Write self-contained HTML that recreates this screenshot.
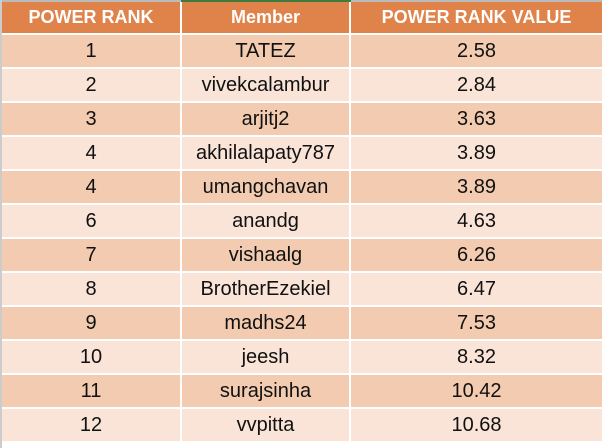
<!DOCTYPE html>
<html><head><meta charset="utf-8"><style>
body{margin:0;width:602px;height:448px;background:#fff;overflow:hidden;font-family:"Liberation Sans",sans-serif;position:relative}
.c{position:absolute;display:flex;align-items:center;justify-content:center;font-size:20px;color:#111}
.h{background:#E0834A;color:#fff;font-weight:bold;font-size:18px}
</style></head><body>
<div style="position:absolute;left:0;top:0;width:602px;height:2px;background:#bbb"></div>
<div style="position:absolute;left:181px;top:0;width:170px;height:2px;background:#3f7a3f"></div>
<div style="position:absolute;left:0;top:0;width:2px;height:448px;background:#ccc"></div>
<div id="t"></div>
<script>
const ranks=["1","2","3","4","4","6","7","8","9","10","11","12"];
const members=["TATEZ","vivekcalambur","arjitj2","akhilalapaty787","umangchavan","anandg","vishaalg","BrotherEzekiel","madhs24","jeesh","surajsinha","vvpitta"];
const values=["2.58","2.84","3.63","3.89","3.89","4.63","6.26","6.47","7.53","8.32","10.42","10.68"];
const headers=["POWER RANK","Member","POWER RANK VALUE"];
const cols=[[2,178],[182,167],[351,251]];
const t=document.getElementById('t');
function cell(x,y,w,h,txt,cls,bg,name){
 const d=document.createElement('div');
 d.className='c '+cls;
 d.style.left=x+'px';d.style.top=y+'px';d.style.width=w+'px';d.style.height=h+'px';
 if(bg)d.style.background=bg;
 d.textContent=txt;
 
 
 t.appendChild(d);
}
headers.forEach((h,j)=>cell(cols[j][0],2,cols[j][1],31,h,'h',null,'header-'+j));
for(let i=0;i<ranks.length;i++){
 const y=35+i*34, bg=i%2==0?'#F2CBB0':'#F9E4D7';
 const vals=[ranks[i],members[i],values[i]];
 vals.forEach((v,j)=>cell(cols[j][0],y,cols[j][1],32,v,'',bg,'row-'+(i+1)+'-col-'+j));
}
</script>
</body></html>
